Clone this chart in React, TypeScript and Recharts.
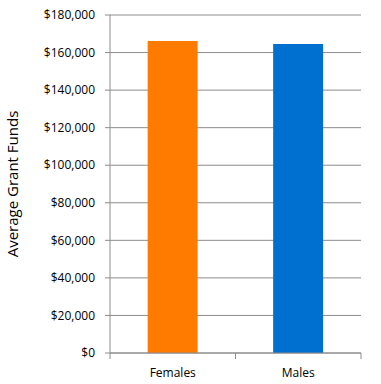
import { BarChart, Bar, XAxis, YAxis, CartesianGrid, Cell } from "recharts";

const groups = ["Females", "Males"];
const avgFunds = [166200, 164600];
const barColors = ["#ff7b00", "#0070d0"];
const yTicks = [0, 20000, 40000, 60000, 80000, 100000, 120000, 140000, 160000, 180000];

const data = groups.map((name, i) => ({ name, value: avgFunds[i] }));

const money = (v: number) => "$" + v.toLocaleString("en-US");

// half of one category band, so tick marks sit between the bars like in Excel
const HALF_BAND = (381 - 110 - 20) / groups.length / 2;

function EdgeTick(props: any) {
  const { x, y, payload, index } = props;
  const last = index === groups.length - 1;
  return (
    <g>
      <line x1={x - HALF_BAND} x2={x - HALF_BAND} y1={y - 8} y2={y - 2} stroke="#8c8c8c" />
      {last && <line x1={x + HALF_BAND} x2={x + HALF_BAND} y1={y - 8} y2={y - 2} stroke="#8c8c8c" />}
      <text x={x} y={y + 16} textAnchor="middle" fill="#000" fontSize={12} fontFamily="Open Sans">
        {payload.value}
      </text>
    </g>
  );
}

export default function App() {
  return (
    <div style={{ position: "absolute", left: 0, top: 0, background: "#fff" }}>
      <BarChart
        width={381}
        height={384}
        data={data}
        margin={{ top: 15, right: 20, bottom: 0, left: 30 }}
        barCategoryGap="30%"
      >
        <CartesianGrid vertical={false} stroke="#8c8c8c" strokeWidth={1} />
        <XAxis
          dataKey="name"
          height={31}
          stroke="#8c8c8c"
          tickLine={false}
          tickSize={6}
          tick={<EdgeTick />}
          interval={0}
        />
        <YAxis
          width={80}
          domain={[0, 180000]}
          ticks={yTicks}
          tickFormatter={money}
          stroke="#8c8c8c"
          tickSize={5}
          tickMargin={10}
          tick={{ fill: "#000", fontSize: 12, fontFamily: "Open Sans" }}
          label={{
            value: "Average Grant Funds",
            angle: -90,
            position: "insideLeft",
            dx: -22,
            style: { textAnchor: "middle", fontSize: 15, fontFamily: "Open Sans", fill: "#000" },
          }}
        />
        <Bar dataKey="value" isAnimationActive={false}>
          {data.map((d, i) => (
            <Cell key={d.name} fill={barColors[i]} />
          ))}
        </Bar>
      </BarChart>
    </div>
  );
}
